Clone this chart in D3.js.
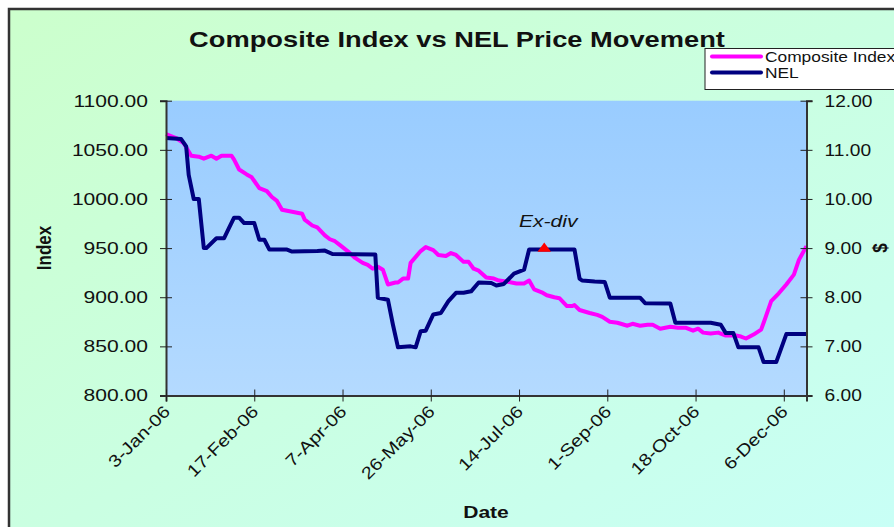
<!DOCTYPE html>
<html>
<head>
<meta charset="utf-8">
<script src="https://cdn.jsdelivr.net/npm/d3@7"></script>
<style>
  body { margin: 0; background: #fff; }
  svg { display: block; font-family: "Liberation Sans", Arial, sans-serif; }
</style>
</head>
<body>
<div class="chart"></div>
<script>
// x positions are trading-day numbers counted from 3-Jan-06
const xTickIdx = [0, 35, 70, 105, 140, 175, 210, 245];
const xTickLabels = ["3-Jan-06", "17-Feb-06", "7-Apr-06", "26-May-06", "14-Jul-06", "1-Sep-06", "18-Oct-06", "6-Dec-06"];
const lastDay = 254;

const indexTicks = [800, 850, 900, 950, 1000, 1050, 1100];
const priceTicks = [6, 7, 8, 9, 10, 11, 12];

const compDay = [0, 4, 7, 10, 13, 15, 18, 20, 22, 26, 27, 29, 32, 34, 37, 40, 42, 44, 46, 50, 54, 55, 58, 60, 63, 65, 67, 69, 72, 75, 78, 80, 82, 84, 86, 88, 91, 92, 94, 96, 97, 101, 103, 106, 108, 111, 113, 115, 118, 120, 122, 124, 127, 130, 132, 135, 137, 139, 142, 144, 146, 149, 151, 154, 156, 159, 161, 162, 164, 168, 171, 173, 176, 179, 183, 185, 188, 191, 193, 196, 200, 203, 206, 209, 211, 213, 216, 219, 222, 226, 228, 230, 233, 236, 237, 240, 243, 246, 249, 251, 254];
const compValue = [1066, 1062, 1057, 1044, 1043, 1041, 1044, 1041, 1044, 1044, 1040, 1030, 1025, 1022, 1011, 1008, 1002, 998, 989, 987, 985, 979, 973, 971, 963, 959, 957, 953, 947, 940, 935, 933, 929, 931, 928, 913, 915, 915, 919, 919, 935, 947, 951, 948, 943, 942, 945, 943, 936, 936, 929, 927, 920, 919, 917, 916, 915, 914, 914, 917, 908, 905, 902, 900, 899, 891, 891, 892, 887, 884, 882, 880, 875, 874, 871, 873, 871, 872, 872, 868, 870, 869, 869, 866, 868, 864, 863, 864, 861, 861, 860, 858, 862, 867, 874, 896, 904, 913, 923, 938, 952];

const nelDay = [0, 6, 8, 9, 11, 13, 15, 16, 20, 23, 25, 27, 29, 31, 35, 37, 39, 41, 48, 50, 60, 63, 66, 83, 84, 88, 90, 92, 97, 99, 101, 103, 106, 109, 112, 115, 118, 121, 124, 129, 131, 134, 138, 142, 144, 162, 164, 165, 170, 174, 176, 188, 190, 200, 202, 216, 220, 222, 225, 227, 235, 237, 242, 246, 254];
const nelValue = [11.24, 11.22, 11.07, 10.49, 10.0, 10.0, 9.0, 9.0, 9.2, 9.2, 9.41, 9.62, 9.62, 9.51, 9.51, 9.17, 9.17, 8.97, 8.97, 8.93, 8.94, 8.95, 8.88, 8.87, 7.99, 7.95, 7.44, 6.98, 7.0, 6.98, 7.31, 7.32, 7.65, 7.68, 7.92, 8.09, 8.09, 8.12, 8.3, 8.29, 8.24, 8.27, 8.48, 8.56, 8.97, 8.97, 8.38, 8.34, 8.32, 8.31, 7.99, 7.99, 7.88, 7.87, 7.48, 7.48, 7.44, 7.27, 7.27, 6.98, 6.98, 6.68, 6.68, 7.25, 7.25];

const exDivDay = 150;
const exDivPrice = 8.97;

const W = 894, H = 527;
const sx = 1.24; // the picture is stretched sideways

const svg = d3.select(".chart").append("svg")
    .attr("width", W)
    .attr("height", H);

const defs = svg.append("defs");
const bg = defs.append("linearGradient").attr("id", "bg")
    .attr("x1", 0).attr("y1", 0).attr("x2", 1).attr("y2", 1);
bg.append("stop").attr("offset", 0).attr("stop-color", "#ccffcc");
bg.append("stop").attr("offset", 1).attr("stop-color", "#c8fff8");
const pa = defs.append("linearGradient").attr("id", "pa")
    .attr("x1", 0).attr("y1", 0).attr("x2", 0).attr("y2", 1);
pa.append("stop").attr("offset", 0).attr("stop-color", "#99ccff");
pa.append("stop").attr("offset", 1).attr("stop-color", "#b4daff");

svg.append("rect")
    .attr("x", 9).attr("y", 9)
    .attr("width", W + 20).attr("height", H + 20)
    .attr("fill", "url(#bg)")
    .attr("stroke", "#333")
    .attr("stroke-width", 2.5);

const plotL = 166, plotR = 806.5, plotT = 100.7, plotB = 395.5;

const x = d3.scaleLinear().domain([0, lastDay]).range([plotL, plotR]);
const yL = d3.scaleLinear().domain([800, 1100]).range([plotB, plotT]);
const yR = d3.scaleLinear().domain([6, 12]).range([plotB, plotT]);

svg.append("rect")
    .attr("x", plotL).attr("y", plotT)
    .attr("width", plotR - plotL).attr("height", plotB - plotT)
    .attr("fill", "url(#pa)");

// series
const compLine = d3.line()
    .x((d, i) => x(compDay[i]))
    .y(d => yL(d));
const nelLine = d3.line()
    .x((d, i) => x(nelDay[i]))
    .y(d => yR(d));

svg.append("path")
    .datum(compValue)
    .attr("fill", "none")
    .attr("stroke", "#ff00ff")
    .attr("stroke-width", 4)
    .attr("stroke-linejoin", "round")
    .attr("d", compLine);

svg.append("path")
    .datum(nelValue)
    .attr("fill", "none")
    .attr("stroke", "#000080")
    .attr("stroke-width", 4)
    .attr("stroke-linejoin", "round")
    .attr("d", nelLine);

// axes
const yAxisL = svg.append("g")
    .attr("transform", `translate(${plotL},0)`)
    .call(d3.axisLeft(yL).tickValues(indexTicks).tickFormat(d3.format(".2f")).tickSize(6));
const yAxisR = svg.append("g")
    .attr("transform", `translate(${plotR},0)`)
    .call(d3.axisRight(yR).tickValues(priceTicks).tickFormat(d3.format(".2f")).tickSize(6));
const xAxis = svg.append("g")
    .attr("transform", `translate(0,${plotB})`)
    .call(d3.axisBottom(x).tickValues(xTickIdx).tickFormat("").tickSize(6));

[yAxisL, yAxisR, xAxis].forEach(g => {
    g.select(".domain").attr("stroke", "#333").attr("stroke-width", 2);
    g.selectAll(".tick line").attr("stroke", "#222");
});
yAxisL.selectAll(".tick line").attr("x1", 6);
yAxisR.selectAll(".tick line").attr("x1", -6);
xAxis.selectAll(".tick line").attr("y1", -6);

yAxisL.selectAll(".tick text")
    .attr("font-size", 17).attr("fill", "#111")
    .attr("x", 0)
    .attr("transform", `translate(-18,0) scale(${sx},1)`);
yAxisR.selectAll(".tick text")
    .attr("font-size", 17).attr("fill", "#111")
    .attr("x", 0)
    .attr("transform", "translate(18,0) scale(1.13,1)");

svg.append("g").selectAll("text")
    .data(xTickIdx)
    .join("text")
    .attr("transform", d => `translate(${x(d) + 1},${plotB + 13}) rotate(-45) scale(1.18,1)`)
    .attr("text-anchor", "end")
    .attr("dy", "0.35em")
    .attr("font-size", 17)
    .attr("fill", "#111")
    .text((d, i) => xTickLabels[i]);

svg.append("path")
    .attr("d", d3.symbol(d3.symbolTriangle, 60)())
    .attr("transform", `translate(${x(exDivDay)},${yR(exDivPrice) - 1}) scale(1.15,0.9)`)
    .attr("fill", "#ff0000");

svg.append("text")
    .attr("transform", `translate(${x(exDivDay) + 4},226.5) scale(${sx},1)`)
    .attr("text-anchor", "middle")
    .attr("font-style", "italic")
    .attr("font-size", 17)
    .attr("fill", "#111")
    .text("Ex-div");

// titles
svg.append("text")
    .attr("transform", `translate(457,47) scale(${sx},1)`)
    .attr("text-anchor", "middle")
    .attr("font-weight", "bold")
    .attr("font-size", 22)
    .attr("fill", "#111")
    .text("Composite Index vs NEL Price Movement");

svg.append("text")
    .attr("transform", `translate(51,248) scale(${sx},1) rotate(-90)`)
    .attr("text-anchor", "middle")
    .attr("font-weight", "bold")
    .attr("font-size", 17)
    .attr("fill", "#111")
    .text("Index");

svg.append("text")
    .attr("transform", `translate(887,248) scale(${sx},1) rotate(-90)`)
    .attr("text-anchor", "middle")
    .attr("font-weight", "bold")
    .attr("font-size", 17)
    .attr("fill", "#111")
    .text("$");

svg.append("text")
    .attr("transform", `translate(486,518) scale(${sx},1)`)
    .attr("text-anchor", "middle")
    .attr("font-weight", "bold")
    .attr("font-size", 17)
    .attr("fill", "#111")
    .text("Date");

// legend
const legend = svg.append("g").attr("transform", "translate(705,48.5)");
legend.append("rect")
    .attr("width", 220).attr("height", 41)
    .attr("fill", "#fff")
    .attr("stroke", "#222")
    .attr("stroke-width", 1);
const legendItems = [
    {name: "Composite Index", color: "#ff00ff"},
    {name: "NEL", color: "#000080"}
];
const li = legend.selectAll("g")
    .data(legendItems)
    .join("g")
    .attr("transform", (d, i) => `translate(0,${8 + i * 16})`);
li.append("line")
    .attr("x1", 7).attr("x2", 56)
    .attr("stroke", d => d.color)
    .attr("stroke-width", 4)
    .attr("stroke-linecap", "round");
li.append("text")
    .attr("transform", `translate(60,5.5) scale(${sx},1)`)
    .attr("font-size", 14)
    .attr("fill", "#111")
    .text(d => d.name);
</script>
</body>
</html>
